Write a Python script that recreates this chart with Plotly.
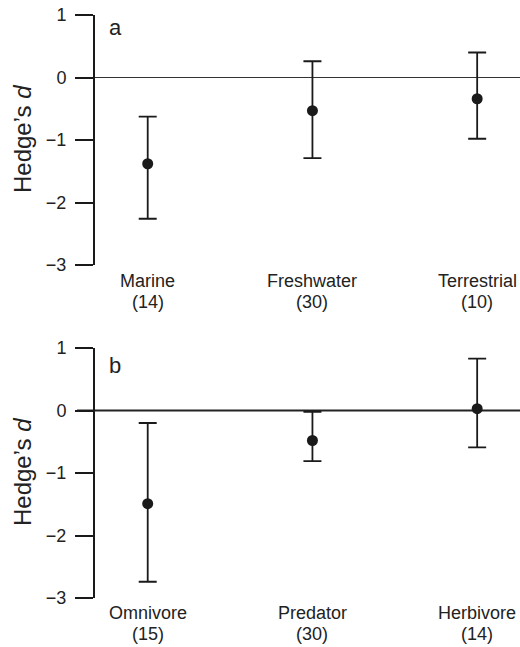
import plotly.graph_objects as go

# Panel a: habitat
habitat = ["Marine", "Freshwater", "Terrestrial"]
habitat_n = ["(14)", "(30)", "(10)"]
habitat_mean = [-1.38, -0.53, -0.34]
habitat_upper = [-0.625, 0.26, 0.40]
habitat_lower = [-2.26, -1.29, -0.98]

# Panel b: trophic group
trophic = ["Omnivore", "Predator", "Herbivore"]
trophic_n = ["(15)", "(30)", "(14)"]
trophic_mean = [-1.49, -0.48, 0.03]
trophic_upper = [-0.20, -0.02, 0.83]
trophic_lower = [-2.74, -0.81, -0.59]

y_ticks = [1, 0, -1, -2, -3]

FONT = "Liberation Sans, Arial, Helvetica, sans-serif"
INK = "#1a1a1a"

fig = go.Figure()

def add_panel(cats, mean, upper, lower, xa, ya):
    xs = list(range(len(cats)))
    fig.add_trace(go.Scatter(
        x=xs, y=mean, mode="markers",
        marker=dict(size=11, color=INK),
        error_y=dict(type="data", symmetric=False,
                     array=[u - m for u, m in zip(upper, mean)],
                     arrayminus=[m - l for m, l in zip(mean, lower)],
                     color=INK, thickness=1.8, width=9),
        xaxis=xa, yaxis=ya, showlegend=False, cliponaxis=False))

add_panel(habitat, habitat_mean, habitat_upper, habitat_lower, "x", "y")
add_panel(trophic, trophic_mean, trophic_upper, trophic_lower, "x2", "y2")

top, bottom, H = 15, 598, 647
ph = bottom - top
def py(p):
    return (bottom - p) / ph

dom_a = [py(265), 1.0]
dom_b = [0.0, py(348)]

xrange_ = [-0.32, 2.26]
xcommon = dict(range=xrange_, showgrid=False, zeroline=False, showline=False,
               showticklabels=False, ticks="")
ycommon = dict(range=[-3, 1], tickvals=y_ticks, showgrid=False, zeroline=False,
               showline=True, linecolor=INK, linewidth=2, ticks="outside",
               ticklen=18, tickwidth=1.8, tickcolor=INK,
               tickfont=dict(size=18, color="#222", family=FONT),
               ticklabelstandoff=5)

fig.update_layout(
    width=520, height=647,
    margin=dict(l=95, r=0, t=top, b=H - bottom),
    paper_bgcolor="white", plot_bgcolor="white",
    font=dict(family=FONT, color="#222"),
    xaxis=dict(domain=[0, 1], anchor="y", **xcommon),
    yaxis=dict(domain=dom_a, anchor="x", **ycommon),
    xaxis2=dict(domain=[0, 1], anchor="y2", **xcommon),
    yaxis2=dict(domain=dom_b, anchor="x2", **ycommon),
)

# zero reference lines (extend across the tick area too)
fig.add_shape(type="line", xref="paper", yref="y", x0=-18/425, x1=1, y0=0, y1=0,
              line=dict(color="#333", width=1.2), layer="below")
fig.add_shape(type="line", xref="paper", yref="y2", x0=-18/425, x1=1, y0=0, y1=0,
              line=dict(color="#222", width=1.8), layer="below")

LBL = 18
ann = []
for i, (c, n) in enumerate(zip(habitat, habitat_n)):
    ann.append(dict(x=i, xref="x", y=py(281), yref="paper", text=c, showarrow=False,
                    font=dict(size=LBL, family=FONT, color="#222"), yanchor="middle"))
    ann.append(dict(x=i, xref="x", y=py(302), yref="paper", text=n, showarrow=False,
                    font=dict(size=LBL, family=FONT, color="#222"), yanchor="middle"))
for i, (c, n) in enumerate(zip(trophic, trophic_n)):
    ann.append(dict(x=i, xref="x2", y=py(613), yref="paper", text=c, showarrow=False,
                    font=dict(size=LBL, family=FONT, color="#222"), yanchor="middle"))
    ann.append(dict(x=i, xref="x2", y=py(634), yref="paper", text=n, showarrow=False,
                    font=dict(size=LBL, family=FONT, color="#222"), yanchor="middle"))

for lab, ypix in [("a", 27), ("b", 365)]:
    ann.append(dict(x=(115 - 95) / 425, xref="paper", y=py(ypix), yref="paper",
                    text=lab, showarrow=False, xanchor="center", yanchor="middle",
                    font=dict(size=22, family=FONT, color="#222")))

for ypix in [139, 472]:
    ann.append(dict(x=(22 - 95) / 425, xref="paper", y=py(ypix), yref="paper",
                    text="Hedge’s <i>d</i>", textangle=-90, showarrow=False,
                    xanchor="center", yanchor="middle",
                    font=dict(size=24, family=FONT, color="#222")))

fig.update_layout(annotations=ann)

fig.write_html("out.html", config={"displayModeBar": False},
               post_script="document.body.style.margin='0';document.body.style.overflow='hidden';")
